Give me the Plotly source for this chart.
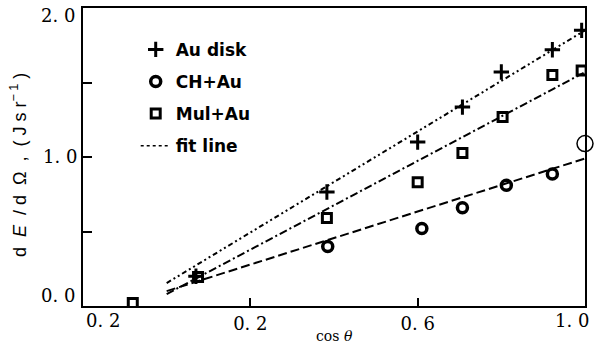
import plotly.graph_objects as go

# ---- data ----
au_x = [0.07, 0.383, 0.60, 0.707, 0.80, 0.922, 0.992]
au_y = [0.20, 0.765, 1.10, 1.335, 1.57, 1.72, 1.85]

ch_x = [0.385, 0.61, 0.707, 0.812, 0.922]
ch_y = [0.40, 0.52, 0.66, 0.81, 0.886]

mul_x = [-0.081, 0.075, 0.383, 0.60, 0.707, 0.803, 0.922, 0.992]
mul_y = [0.02, 0.195, 0.59, 0.83, 1.027, 1.268, 1.55, 1.58]

ref_x = [1.0]
ref_y = [1.09]

fit_x = [0.0, 1.0]
fit_au = [0.154, 1.85]
fit_mul = [0.08, 1.57]
fit_ch = [0.10, 0.99]

x_tick_vals = [0.2, 0.6]
x_tick_text = ["0. 2", "0. 6"]
x_edge_vals = [-0.152, 0.969]
x_edge_text = ["0. 2", "1. 0"]
y_tick_vals = [1.0]
y_tick_text = ["1. 0"]
y_minor_vals = [0.5, 1.5]
y_edge_vals = [0.0, 2.0]
y_edge_text = ["0. 0", "2. 0"]

serif = "DejaVu Serif"
tick_font = dict(family=serif, size=18, color="black")
legend_font = dict(family="DejaVu Sans", size=17, color="black")
NB = "\u00a0"

fig = go.Figure()

# fit lines
fig.add_trace(go.Scatter(x=fit_x, y=fit_au, mode="lines", showlegend=False,
                         line=dict(color="black", width=2, dash="5px,3px,2px,3px,2px,3px")))
fig.add_trace(go.Scatter(x=fit_x, y=fit_mul, mode="lines", showlegend=False,
                         line=dict(color="black", width=2, dash="8px,3px,2px,3px")))
fig.add_trace(go.Scatter(x=fit_x, y=fit_ch, mode="lines", showlegend=False,
                         line=dict(color="black", width=2, dash="9px,4px")))

# data
fig.add_trace(go.Scatter(x=au_x, y=au_y, mode="markers", name="<b>Au disk</b>",
                         legendgroup="a",
                         marker=dict(symbol="cross-thin", size=11, color="black",
                                     line=dict(color="black", width=3))))
fig.add_trace(go.Scatter(x=ch_x, y=ch_y, mode="markers", name="<b>CH+Au</b>",
                         legendgroup="b",
                         marker=dict(symbol="circle-open", size=10, color="black",
                                     line=dict(color="black", width=3.5))))
fig.add_trace(go.Scatter(x=mul_x, y=mul_y, mode="markers", name="<b>Mul+Au</b>",
                         legendgroup="c",
                         marker=dict(symbol="square-open", size=9, color="black",
                                     line=dict(color="black", width=3))))
fig.add_trace(go.Scatter(x=[None], y=[None], mode="lines", name="<b>fit line</b>",
                         legendgroup="d",
                         line=dict(color="black", width=1.5, dash="dot")))
fig.add_trace(go.Scatter(x=ref_x, y=ref_y, mode="markers", showlegend=False,
                         cliponaxis=False,
                         marker=dict(symbol="circle", size=16, color="white",
                                     line=dict(color="black", width=1.5))))

for v, t in zip(x_edge_vals, x_edge_text):
    fig.add_annotation(x=v, y=0, xref="x", yref="paper", text=t, showarrow=False,
                       yanchor="middle", yshift=-14, font=tick_font)
for v, t, s in zip(y_edge_vals, y_edge_text, [11, -7]):
    fig.add_annotation(x=0, y=v, xref="paper", yref="y", text=t, showarrow=False,
                       xanchor="right", xshift=-6, yanchor="middle", yshift=s,
                       font=tick_font)

# axis titles
fig.add_annotation(x=0.5, y=0, xref="paper", yref="paper", text="cos <i>θ</i>",
                   showarrow=False, yanchor="middle", yshift=-30,
                   font=dict(family=serif, size=14, color="black"))
S2 = NB * 2
ytitle = ("d" + S2 + "<i>E</i>" + S2 + "/" + NB + "d" + S2 + "Ω" + S2 + "," + S2 +
          "(" + NB + "J" + NB + "s" + NB + "r<sup>−" + NB + "1</sup>" + NB + ")")
fig.add_annotation(x=0, y=0.473, xref="paper", yref="paper",
                   text=ytitle, textangle=-90,
                   showarrow=False, xanchor="center", xshift=-65,
                   font=dict(family="Liberation Sans", size=18, color="black"))

fig.update_layout(
    width=597, height=349,
    margin=dict(l=83, r=12, t=8, b=43),
    paper_bgcolor="white", plot_bgcolor="white",
    legend=dict(x=0.105, y=0.92, xanchor="left", yanchor="top",
                font=legend_font, tracegroupgap=7, bgcolor="rgba(0,0,0,0)",
                itemwidth=30),
    xaxis=dict(range=[-0.2, 1.0], tickvals=x_tick_vals, ticktext=x_tick_text,
               ticks="inside", ticklen=8, tickwidth=2, tickcolor="black",
               showline=True, linecolor="black", linewidth=2, mirror=True,
               showgrid=False, zeroline=False, automargin=False,
               tickfont=tick_font),
    yaxis=dict(range=[0, 2.0], tickvals=y_tick_vals, ticktext=y_tick_text,
               ticks="inside", ticklen=9, tickwidth=2, tickcolor="black",
               minor=dict(tickvals=y_minor_vals, ticks="inside", ticklen=9,
                          tickwidth=2, tickcolor="black", showgrid=False),
               showline=True, linecolor="black", linewidth=2, mirror=True,
               showgrid=False, zeroline=False, automargin=False,
               tickfont=tick_font),
)

fig.write_html("out.html", config={"displayModeBar": False},
               post_script="document.body.style.margin='0px';")
